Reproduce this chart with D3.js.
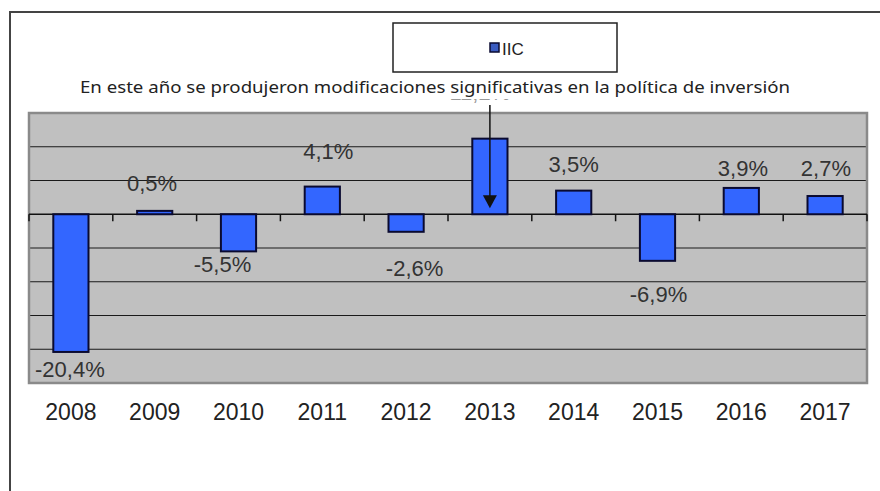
<!DOCTYPE html>
<html>
<head>
<meta charset="utf-8">
<script src="https://cdn.jsdelivr.net/npm/d3@7"></script>
<style>
  html, body { margin: 0; padding: 0; background: #fff; }
  svg { display: block; }
</style>
</head>
<body>
<svg id="chart" width="880" height="491"></svg>
<script>
// Annual return of the IIC fund, in percent
const years = ["2008", "2009", "2010", "2011", "2012", "2013", "2014", "2015", "2016", "2017"];
const returns = [-20.4, 0.5, -5.5, 4.1, -2.6, 11.2, 3.5, -6.9, 3.9, 2.7];
const seriesName = "IIC";
const yTicks = [-25, -20, -15, -10, -5, 0, 5, 10, 15];
const noteText = "En este año se produjeron modificaciones significativas en la política de inversión";
const noteYear = "2013";

// hand-placed label nudges (px), layout only
const labelNudge = {
  "2008": [-1, 3], "2009": [-2.6, 0], "2010": [-16, -1], "2011": [6, -8],
  "2012": [8.5, 22], "2013": [-10, -18.5], "2014": [0, 1], "2015": [1, 19],
  "2016": [1.6, 8], "2017": [0.8, 0]
};

const svg = d3.select("#chart");
const plot = { left: 29, right: 867, top: 113, bottom: 383 };

const x = d3.scaleBand().domain(years).range([plot.left, plot.right]).padding(0);
const y = d3.scaleLinear().domain([d3.min(yTicks), d3.max(yTicks)]).range([plot.bottom, plot.top]);
const fmt = v => d3.format(".1f")(v).replace("\u2212", "-").replace(".", ",") + "%";

// outer chart frame
svg.append("rect")
  .attr("x", 10).attr("y", 12).attr("width", 900).attr("height", 500)
  .attr("fill", "#fff").attr("stroke", "#444").attr("stroke-width", 2);

// plot area
svg.append("rect")
  .attr("x", plot.left).attr("y", plot.top)
  .attr("width", plot.right - plot.left).attr("height", plot.bottom - plot.top)
  .attr("fill", "#c0c0c0");

// horizontal gridlines
svg.append("g").selectAll("line")
  .data(yTicks.filter(t => t !== d3.min(yTicks) && t !== d3.max(yTicks) && t !== 0))
  .join("line")
  .attr("x1", plot.left).attr("x2", plot.right)
  .attr("y1", d => y(d)).attr("y2", d => y(d))
  .attr("stroke", "#1a1a1a").attr("stroke-width", 1.2);

// plot border
svg.append("rect")
  .attr("x", plot.left).attr("y", plot.top)
  .attr("width", plot.right - plot.left).attr("height", plot.bottom - plot.top)
  .attr("fill", "none").attr("stroke", "#8a8a8a").attr("stroke-width", 2.5);

// category axis on the zero line, ticks pointing down
const xAxis = d3.axisBottom(x).tickSize(0).tickFormat("");
const axisG = svg.append("g").attr("transform", `translate(0,${y(0)})`).call(xAxis);
axisG.select(".domain").attr("stroke", "#111").attr("stroke-width", 1.5)
  .attr("d", `M${plot.left},0H${plot.right}`);
axisG.selectAll(".tick").remove();
const boundaries = years.map(d => x(d)).concat([x(years[years.length - 1]) + x.bandwidth()]);
axisG.selectAll("line.cut").data(boundaries).join("line")
  .attr("class", "cut")
  .attr("x1", d => d).attr("x2", d => d)
  .attr("y1", 0).attr("y2", 7)
  .attr("stroke", "#111").attr("stroke-width", 1.5);

// bars
const barW = x.bandwidth() * 0.42;
const data = years.map((yr, i) => ({ year: yr, value: returns[i] }));
svg.append("g").selectAll("rect").data(data).join("rect")
  .attr("x", d => x(d.year) + x.bandwidth() / 2 - barW / 2)
  .attr("width", barW)
  .attr("y", d => y(Math.max(0, d.value)))
  .attr("height", d => Math.abs(y(d.value) - y(0)))
  .attr("fill", "#3366ff")
  .attr("stroke", "#0a0a30").attr("stroke-width", 2);

// value labels
svg.append("g").selectAll("text").data(data).join("text")
  .attr("x", d => x(d.year) + x.bandwidth() / 2 + labelNudge[d.year][0])
  .attr("y", d => (d.value >= 0 ? y(d.value) - 20 : y(d.value) + 22) + labelNudge[d.year][1])
  .attr("text-anchor", "middle")
  .attr("font-family", "'Liberation Sans', Arial, sans-serif")
  .attr("font-size", 22)
  .attr("fill", d => d.year === noteYear ? "#999" : "#333")
  .text(d => fmt(d.value));

// year labels
svg.append("g").selectAll("text").data(years).join("text")
  .attr("x", d => x(d) + x.bandwidth() / 2)
  .attr("y", 420)
  .attr("text-anchor", "middle")
  .attr("font-family", "'Liberation Sans', Arial, sans-serif")
  .attr("font-size", 23)
  .attr("fill", "#222")
  .text(d => d);

// note text box (white, sits over the plot edge)
svg.append("rect")
  .attr("x", 75).attr("y", 74).attr("width", 722).attr("height", 25)
  .attr("fill", "#fff");
svg.append("text")
  .attr("x", 80).attr("y", 92.5)
  .attr("font-family", "'Noto Sans', 'Open Sans', sans-serif")
  .attr("font-size", 17)
  .attr("fill", "#222")
  .attr("textLength", 710)
  .attr("lengthAdjust", "spacingAndGlyphs")
  .text(noteText);

// arrow pointing at the marked year
const ax = x(noteYear) + x.bandwidth() / 2;
const tipY = y(0) - 6;
svg.append("line")
  .attr("x1", ax).attr("x2", ax)
  .attr("y1", 105).attr("y2", tipY - 10)
  .attr("stroke", "#111").attr("stroke-width", 1.5);
svg.append("path")
  .attr("d", `M${ax - 7},${tipY - 13}L${ax + 7},${tipY - 13}L${ax},${tipY}Z`)
  .attr("fill", "#111");

// legend
const lg = svg.append("g");
lg.append("rect")
  .attr("x", 393).attr("y", 23).attr("width", 224).attr("height", 49)
  .attr("fill", "#fff").attr("stroke", "#222").attr("stroke-width", 1.5);
lg.append("rect")
  .attr("x", 490).attr("y", 43).attr("width", 9).attr("height", 9)
  .attr("fill", "#3a5bc0").attr("stroke", "#0a0a30").attr("stroke-width", 1.5);
lg.append("text")
  .attr("x", 502).attr("y", 54.5)
  .attr("font-family", "'Liberation Sans', Arial, sans-serif")
  .attr("font-size", 17)
  .attr("fill", "#222")
  .text(seriesName);
</script>
</body>
</html>
